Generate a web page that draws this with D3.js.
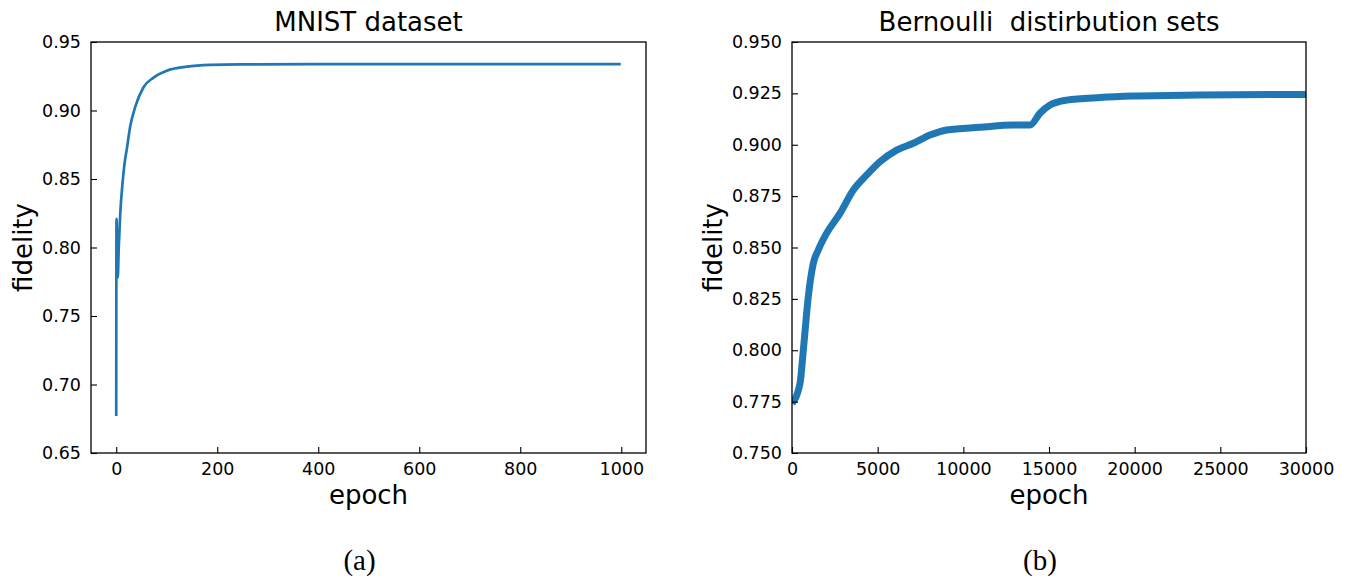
<!DOCTYPE html>
<html>
<head>
<meta charset="utf-8">
<script src="https://cdn.jsdelivr.net/npm/d3@7"></script>
<style>
  body { margin: 0; background: #fff; }
  svg { display: block; }
  .tick text { font-family: "DejaVu Sans", sans-serif; font-size: 17.5px; fill: #000; }
  .tick line { stroke: #000; stroke-width: 1.1; }
  .domain { display: none; }
</style>
</head>
<body>
<svg id="chart" width="1352" height="579"></svg>
<script>
// MNIST run: [epoch, fidelity]
const mnistEpoch = [0, 0.5, 3, 5, 8, 12, 16, 21, 28, 38, 54, 74, 100, 140, 186, 245, 400, 999]
const mnistFid = [0.677, 0.821, 0.778, 0.800, 0.825, 0.845, 0.860, 0.872, 0.889, 0.903, 0.917, 0.924, 0.929, 0.932, 0.9333, 0.9337, 0.9338, 0.9339]

// Bernoulli run: [epoch, fidelity]
const bernEpoch = [0, 470, 660, 950, 1245, 1535, 2025, 2800, 3580, 4360, 5140, 6110, 7080, 8050, 9030, 10975, 12920, 13900, 14470, 15060, 16030, 17980, 19930, 23820, 30000]
const bernFid = [0.7742, 0.784, 0.800, 0.826, 0.8423, 0.8488, 0.857, 0.8666, 0.878, 0.8853, 0.8918, 0.8974, 0.9007, 0.9047, 0.9072, 0.9085, 0.9096, 0.9096, 0.9153, 0.9193, 0.9217, 0.923, 0.9237, 0.9242, 0.9245]

const mnistXTicks = [0, 200, 400, 600, 800, 1000]
const mnistYTicks = [0.65, 0.70, 0.75, 0.80, 0.85, 0.90, 0.95]
const bernXTicks = [0, 5000, 10000, 15000, 20000, 25000, 30000]
const bernYTicks = [0.750, 0.775, 0.800, 0.825, 0.850, 0.875, 0.900, 0.925, 0.950]

const svg = d3.select('#chart')
const blue = '#1f77b4'

function drawPanel(opt) {
  let { left, right, top, bottom, xDomain, yDomain, xTicks, yTicks, yFmt,
    xs, ys, lineWidth, title, caption, yLabelOffset } = opt
  let x = d3.scaleLinear().domain(xDomain).range([left, right])
  let y = d3.scaleLinear().domain(yDomain).range([bottom, top])
  let g = svg.append('g')

  let line = d3.line()
    .x(i => x(xs[i]))
    .y(i => y(ys[i]))
    .curve(d3.curveMonotoneX)

  g.append('defs').append('clipPath').attr('id', 'clip-' + left)
    .append('rect').attr('x', left).attr('y', top)
    .attr('width', right - left).attr('height', bottom - top)

  g.append('path')
    .attr('d', line(d3.range(xs.length)))
    .attr('fill', 'none')
    .attr('stroke', blue)
    .attr('stroke-width', lineWidth)
    .attr('stroke-linejoin', 'round')
    .attr('clip-path', `url(#clip-${left})`)

  g.append('g')
    .attr('transform', `translate(0,${bottom})`)
    .call(d3.axisBottom(x).tickValues(xTicks).tickSize(-6).tickPadding(10).tickFormat(d3.format('d')))
  g.append('g')
    .attr('transform', `translate(${left},0)`)
    .call(d3.axisLeft(y).tickValues(yTicks).tickSize(-6).tickPadding(10).tickFormat(d3.format(yFmt)))

  g.append('rect')
    .attr('x', left).attr('y', top)
    .attr('width', right - left).attr('height', bottom - top)
    .attr('fill', 'none').attr('stroke', '#000').attr('stroke-width', 1.3)

  let cx = (left + right) / 2
  g.append('text').text(title)
    .attr('x', cx).attr('y', 31)
    .attr('text-anchor', 'middle')
    .style('white-space', 'pre')
    .style('font-family', '"DejaVu Sans", sans-serif').style('font-size', '26px')
  g.append('text').text('epoch')
    .attr('x', cx).attr('y', 504)
    .attr('text-anchor', 'middle')
    .style('font-family', '"DejaVu Sans", sans-serif').style('font-size', '26px')
  g.append('text').text('fidelity')
    .attr('transform', `translate(${left - yLabelOffset},${(top + bottom) / 2}) rotate(-90)`)
    .attr('text-anchor', 'middle')
    .style('font-family', '"DejaVu Sans", sans-serif').style('font-size', '26px')
  g.append('text').text(caption)
    .attr('x', cx - 9).attr('y', 570)
    .attr('text-anchor', 'middle')
    .style('font-family', '"Liberation Serif", serif').style('font-size', '29px')
}

drawPanel({
  left: 91, right: 646, top: 42, bottom: 453,
  xDomain: [-49.95, 1048.95], yDomain: [0.65, 0.95],
  xTicks: mnistXTicks, yTicks: mnistYTicks, yFmt: '.2f',
  xs: mnistEpoch, ys: mnistFid, lineWidth: 2.7,
  title: 'MNIST dataset', caption: '(a)', yLabelOffset: 59
})

drawPanel({
  left: 792, right: 1306, top: 42, bottom: 453,
  xDomain: [0, 30000], yDomain: [0.75, 0.95],
  xTicks: bernXTicks, yTicks: bernYTicks, yFmt: '.3f',
  xs: bernEpoch, ys: bernFid, lineWidth: 7,
  title: 'Bernoulli  distirbution sets', caption: '(b)', yLabelOffset: 70
})
</script>
</body>
</html>
